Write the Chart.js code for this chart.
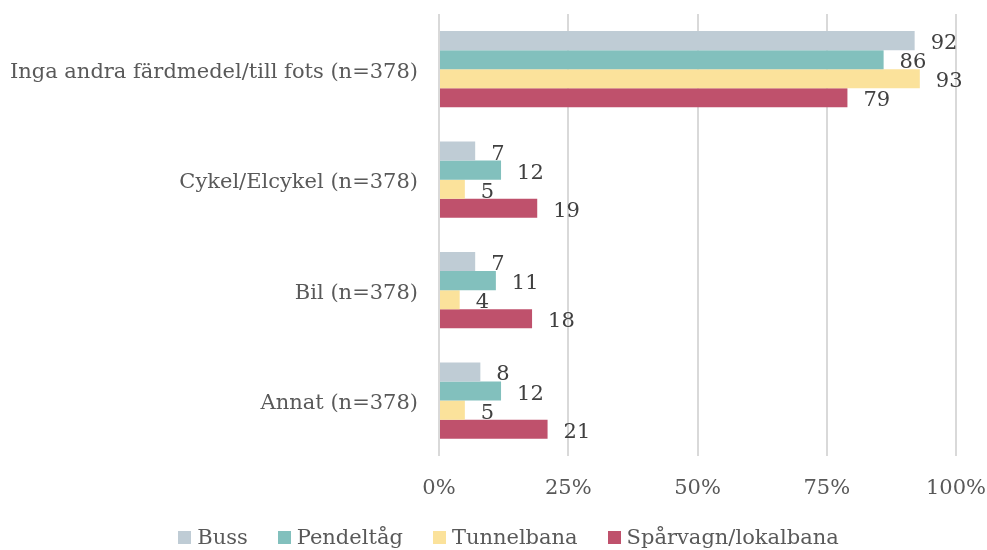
<!DOCTYPE html>
<html>
<head>
<meta charset="utf-8">
<script src="https://cdn.jsdelivr.net/npm/chart.js@4/dist/chart.umd.min.js"></script>
<style>
  html, body { margin: 0; padding: 0; background: #ffffff; }
  #wrap { width: 987px; height: 550px; position: relative; }
  #legend { position: absolute; left: 15px; top: 524px; width: 987px; height: 26px; display: flex; justify-content: center; align-items: center;
            font-family: "DejaVu Serif"; font-size: 21px; color: #595959; white-space: nowrap; }
  .item { display: flex; align-items: center; margin: 0 15px; }
  .box { width: 13px; height: 13px; margin-right: 6px; }
</style>
</head>
<body>
<div id="wrap"><canvas id="c"></canvas><div id="legend"></div></div>
<script>
const categories = ['Inga andra färdmedel/till fots (n=378)', 'Cykel/Elcykel (n=378)', 'Bil (n=378)', 'Annat (n=378)'];
const seriesNames = ['Buss', 'Pendeltåg', 'Tunnelbana', 'Spårvagn/lokalbana'];
const buss = [92, 7, 7, 8];
const pendeltag = [86, 12, 11, 12];
const tunnelbana = [93, 5, 4, 5];
const sparvagn = [79, 19, 18, 21];
const xTicks = [0, 25, 50, 75, 100];

const colors = ['#bfccd5', '#82c0bd', '#fbe29b', '#bf516c'];
const FONT = 'DejaVu Serif';
const TEXT = '#595959';
const FS = 21;

const valueLabels = {
  id: 'valueLabels',
  afterDatasetsDraw(chart) {
    const ctx = chart.ctx;
    ctx.save();
    ctx.font = FS + 'px "' + FONT + '"';
    ctx.fillStyle = '#404040';
    ctx.textAlign = 'left';
    ctx.textBaseline = 'middle';
    chart.data.datasets.forEach((ds, i) => {
      const meta = chart.getDatasetMeta(i);
      meta.data.forEach((el, j) => {
        ctx.fillText(String(ds.data[j]), el.x + 16, el.y + 3);
      });
    });
    ctx.restore();
  }
};

const datasets = [buss, pendeltag, tunnelbana, sparvagn].map((d, i) => ({
  label: seriesNames[i], data: d, backgroundColor: colors[i]
}));

const chart = new Chart(document.getElementById('c'), {
  type: 'bar',
  data: { labels: categories, datasets },
  options: {
    indexAxis: 'y',
    responsive: true,
    maintainAspectRatio: false,
    animation: false,
    datasets: { bar: { barPercentage: 1, categoryPercentage: 0.69 } },
    layout: { padding: { top: 14, right: 0, left: 0, bottom: 29 } },
    scales: {
      x: {
        min: 0, max: 100,
        afterBuildTicks: (scale) => { scale.ticks = xTicks.map(v => ({ value: v })); },
        afterFit: (scale) => { scale.paddingLeft = 0; scale.paddingRight = 31; },
        grid: { color: '#d9d9d9', lineWidth: 2, drawTicks: false },
        border: { display: false },
        ticks: {
          padding: 20,
          maxRotation: 0,
          color: TEXT,
          font: { family: FONT, size: FS },
          callback: (v) => v + '%'
        }
      },
      y: {
        grid: { display: false, drawTicks: false },
        border: { display: false },
        afterFit: (scale) => { scale.width = 439; scale.paddingTop = 0; scale.paddingBottom = 0; },
        ticks: {
          padding: 21,
          labelOffset: 3,
          color: TEXT,
          font: { family: FONT, size: FS }
        }
      }
    },
    plugins: {
      legend: { display: false },
      tooltip: { enabled: false }
    }
  },
  plugins: [valueLabels]
});

const legend = document.getElementById('legend');
seriesNames.forEach((name, i) => {
  const item = document.createElement('div');
  item.className = 'item';
  const box = document.createElement('span');
  box.className = 'box';
  box.style.background = colors[i];
  const txt = document.createElement('span');
  txt.textContent = name;
  item.appendChild(box);
  item.appendChild(txt);
  legend.appendChild(item);
});
</script>
</body>
</html>
